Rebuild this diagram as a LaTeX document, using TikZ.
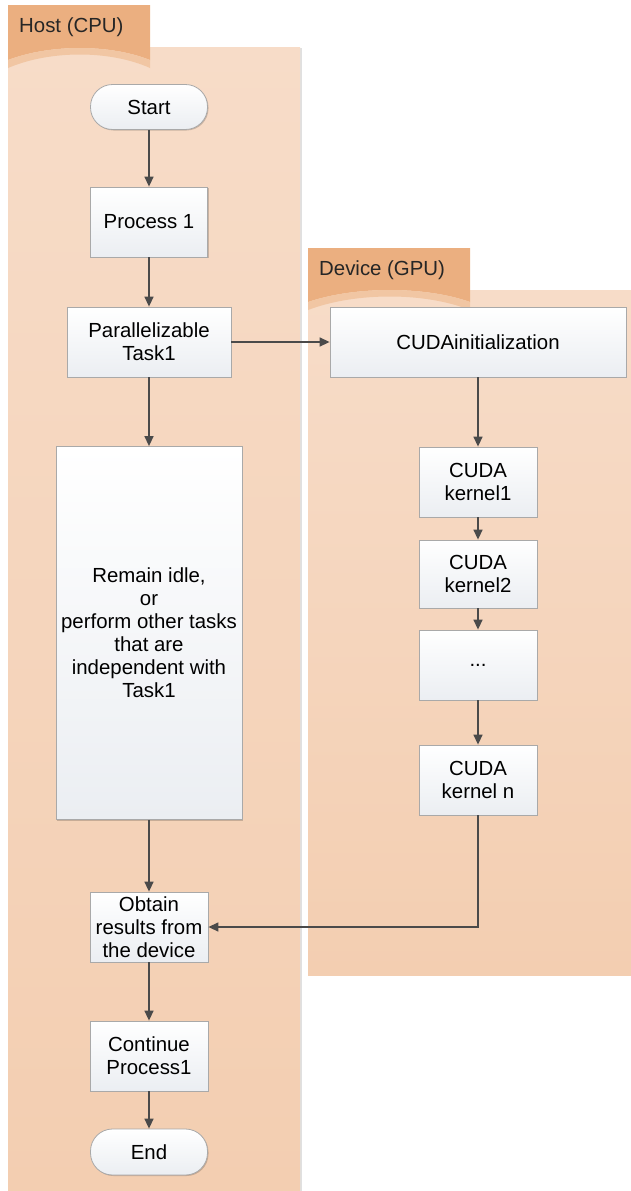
\documentclass[tikz,border=0pt]{standalone}
\usepackage{fontspec}
\setmainfont{Liberation Sans}
\usetikzlibrary{arrows.meta,shadows}

\definecolor{laneTop}{HTML}{F7DCC8}
\definecolor{laneBot}{HTML}{F3CEB1}
\definecolor{tabDark}{HTML}{EBAF80}
\definecolor{tabBand}{HTML}{F1C6A3}
\definecolor{boxLine}{HTML}{A9A9A9}
\definecolor{boxBot}{HTML}{EBEEF2}
\definecolor{arrLine}{HTML}{4A4A4A}

\begin{document}
\begin{tikzpicture}[
  x=1pt, y=-1pt,
  lane/.style={top color=laneTop, bottom color=laneBot, draw=none,
    drop shadow={shadow xshift=1.5pt, shadow yshift=-1pt, fill=black, opacity=0.12}},
  box/.style={draw=boxLine, line width=0.8pt, top color=white, bottom color=boxBot,
    align=center, inner sep=0pt, font=\fontsize{20.4}{23}\selectfont,
    drop shadow={shadow xshift=1pt, shadow yshift=-1pt, fill=black, opacity=0.18}},
  term/.style={box, rounded corners=22pt},
  arr/.style={draw=arrLine, line width=1.4pt, -{Triangle[length=10pt,width=9pt]}},
  lbl/.style={anchor=base west, inner sep=0pt, font=\fontsize{20.4}{23}\selectfont, text=black!85},
  ]
  \useasboundingbox (0,0) rectangle (631,1191);

  % swim lanes
  \fill[lane] (8,47) rectangle (300,1191);
  \fill[lane] (308,290) rectangle (631,975);

  % lane tabs
  \fill[tabDark] (8,5) -- (150,5) -- (150,60) .. controls (110,44) and (50,44) .. (8,60) -- cycle;
  \fill[tabBand] (8,60) .. controls (50,44) and (110,44) .. (150,60) -- (150,68)
    .. controls (110,50) and (50,50) .. (8,68) -- cycle;
  \fill[tabDark] (308,248) -- (470,248) -- (470,302) .. controls (425,286) and (355,286) .. (308,302) -- cycle;
  \fill[tabBand] (308,302) .. controls (355,286) and (425,286) .. (470,302) -- (470,310)
    .. controls (425,292) and (355,292) .. (308,310) -- cycle;
  \node[lbl] (host) at (19,32) {Host (CPU)};
  \node[lbl] (device) at (319,275) {Device (GPU)};

  % host side
  \node[term, minimum width=117pt, minimum height=45pt] (start) at (149,107) {Start};
  \node[box, minimum width=117pt, minimum height=70pt] (proc) at (149,222) {Process 1};
  \node[box, minimum width=164pt, minimum height=70pt] (task) at (149,342) {Parallelizable\\Task1};
  \node[box, minimum width=186pt, minimum height=373pt] (idle) at (149,633)
    {Remain idle,\\or\\perform other tasks\\that are\\independent with\\Task1};
  \node[box, minimum width=118pt, minimum height=70pt] (obtain) at (149,927) {Obtain\\results from\\the device};
  \node[box, minimum width=118pt, minimum height=70pt] (cont) at (149,1056) {Continue\\Process1};
  \node[term, minimum width=117pt, minimum height=46pt] (finish) at (149,1152) {End};

  % device side
  \node[box, minimum width=296pt, minimum height=70pt] (init) at (478,342) {CUDAinitialization};
  \node[box, minimum width=118pt, minimum height=70pt] (k1) at (478,482) {CUDA\\kernel1};
  \node[box, minimum width=118pt, minimum height=68pt] (k2) at (478,574) {CUDA\\kernel2};
  \node[box, minimum width=118pt, minimum height=70pt] (kdots) at (478,665) {...};
  \node[box, minimum width=118pt, minimum height=70pt] (kn) at (478,780) {CUDA\\kernel n};

  % connectors
  \draw[arr] (start) -- (proc);
  \draw[arr] (proc) -- (task);
  \draw[arr] (task) -- (init);
  \draw[arr] (task) -- (idle);
  \draw[arr] (idle) -- (obtain);
  \draw[arr] (obtain) -- (cont);
  \draw[arr] (cont) -- (finish);
  \draw[arr] (init) -- (k1);
  \draw[arr] (k1) -- (k2);
  \draw[arr] (k2) -- (kdots);
  \draw[arr] (kdots) -- (kn);
  \draw[arr] (kn) |- (obtain);
\end{tikzpicture}
\end{document}
